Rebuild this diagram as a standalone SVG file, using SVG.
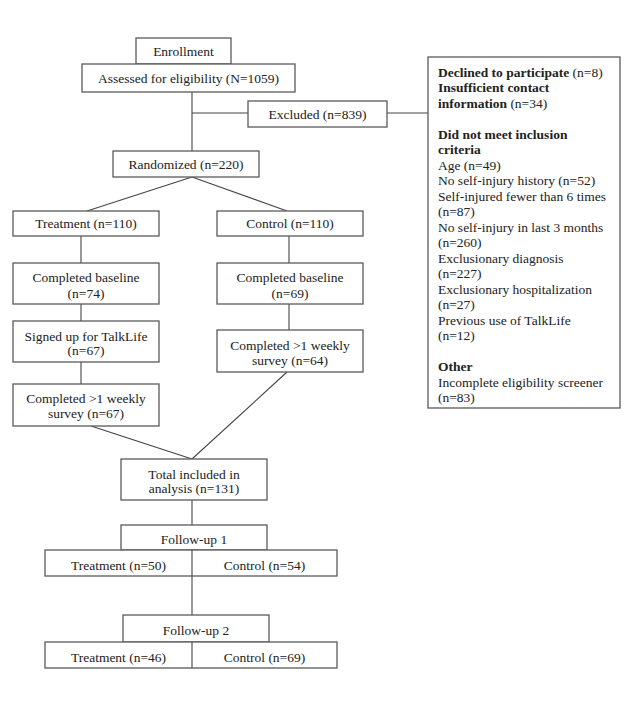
<svg xmlns="http://www.w3.org/2000/svg" width="641" height="718" viewBox="0 0 641 718">
<style>
rect{fill:#fff;stroke:#5a5a5a;stroke-width:1.3}
line{stroke:#444;stroke-width:1.1}
text{font-family:"Liberation Serif","Times New Roman",serif;font-size:13.5px;fill:#222}
.c{text-anchor:middle}
.b{font-weight:bold}
</style>
<rect x="0" y="0" width="641" height="718" style="stroke:none"/>
<g id="connectors">
<line x1="192" y1="92" x2="192" y2="151"/>
<line x1="192" y1="113" x2="248" y2="113"/>
<line x1="387" y1="113" x2="428" y2="113"/>
<line x1="192" y1="177" x2="87" y2="211"/>
<line x1="192" y1="177" x2="287" y2="211"/>
<line x1="81" y1="236" x2="81" y2="263"/>
<line x1="81" y1="304" x2="81" y2="321"/>
<line x1="81" y1="362" x2="81" y2="384"/>
<line x1="289" y1="236" x2="289" y2="263"/>
<line x1="289" y1="304" x2="289" y2="330"/>
<line x1="91" y1="426" x2="192" y2="459"/>
<line x1="287" y1="372" x2="192" y2="459"/>
<line x1="192" y1="500" x2="192" y2="525"/>
<line x1="192" y1="576" x2="192" y2="615"/>
</g>
<g id="enrollment"><rect x="136" y="38" width="95" height="26"/><text class="c" x="183.5" y="56">Enrollment</text></g>
<g id="assessed"><rect x="82" y="64" width="213" height="28"/><text class="c" x="188.5" y="83">Assessed for eligibility (N=1059)</text></g>
<g id="excluded"><rect x="248" y="101" width="139" height="26"/><text class="c" x="317.5" y="119">Excluded (n=839)</text></g>
<g id="exclusion-details"><rect x="428" y="57" width="192" height="351"/>
<text x="438" y="77"><tspan class="b">Declined to participate</tspan> (n=8)</text>
<text x="438" y="92" class="b">Insufficient contact</text>
<text x="438" y="108"><tspan class="b">information</tspan> (n=34)</text>
<text x="438" y="139" class="b">Did not meet inclusion</text>
<text x="438" y="154" class="b">criteria</text>
<text x="438" y="170">Age (n=49)</text>
<text x="438" y="185">No self-injury history (n=52)</text>
<text x="438" y="201">Self-injured fewer than 6 times</text>
<text x="438" y="216">(n=87)</text>
<text x="438" y="232">No self-injury in last 3 months</text>
<text x="438" y="247">(n=260)</text>
<text x="438" y="263">Exclusionary diagnosis</text>
<text x="438" y="278">(n=227)</text>
<text x="438" y="294">Exclusionary hospitalization</text>
<text x="438" y="309">(n=27)</text>
<text x="438" y="325">Previous use of TalkLife</text>
<text x="438" y="340">(n=12)</text>
<text x="438" y="371" class="b">Other</text>
<text x="438" y="387">Incomplete eligibility screener</text>
<text x="438" y="402">(n=83)</text>
</g>
<g id="randomized"><rect x="113" y="151" width="146" height="26"/><text class="c" x="186" y="169">Randomized (n=220)</text></g>
<g id="treatment"><rect x="13" y="211" width="146" height="25"/><text class="c" x="86" y="228">Treatment (n=110)</text></g>
<g id="control"><rect x="217" y="211" width="146" height="25"/><text class="c" x="290" y="228">Control (n=110)</text></g>
<g id="baseline-t"><rect x="13" y="263" width="146" height="41"/><text class="c" x="86" y="282">Completed baseline</text><text class="c" x="86" y="298">(n=74)</text></g>
<g id="baseline-c"><rect x="217" y="263" width="146" height="41"/><text class="c" x="290" y="282">Completed baseline</text><text class="c" x="290" y="298">(n=69)</text></g>
<g id="signed-up"><rect x="13" y="321" width="146" height="41"/><text class="c" x="86" y="341">Signed up for TalkLife</text><text class="c" x="86" y="355">(n=67)</text></g>
<g id="weekly-t"><rect x="13" y="384" width="146" height="42"/><text class="c" x="86" y="403">Completed &gt;1 weekly</text><text class="c" x="86" y="418">survey (n=67)</text></g>
<g id="weekly-c"><rect x="217" y="330" width="146" height="42"/><text class="c" x="290" y="350">Completed &gt;1 weekly</text><text class="c" x="290" y="365">survey (n=64)</text></g>
<g id="total"><rect x="121" y="459" width="146" height="41"/><text class="c" x="194" y="479">Total included in</text><text class="c" x="194" y="493">analysis (n=131)</text></g>
<g id="followup1"><rect x="121" y="525" width="146" height="25"/><text class="c" x="194" y="544">Follow-up 1</text></g>
<g id="followup1-groups"><rect x="45" y="550" width="292" height="26"/><line x1="192" y1="550" x2="192" y2="576"/><text class="c" x="118.5" y="570">Treatment (n=50)</text><text class="c" x="264.5" y="570">Control (n=54)</text></g>
<g id="followup2"><rect x="123" y="615" width="146" height="27"/><text class="c" x="196" y="635">Follow-up 2</text></g>
<g id="followup2-groups"><rect x="45" y="642" width="292" height="26"/><line x1="192" y1="642" x2="192" y2="668"/><text class="c" x="118.5" y="662">Treatment (n=46)</text><text class="c" x="264.5" y="662">Control (n=69)</text></g>
</svg>
